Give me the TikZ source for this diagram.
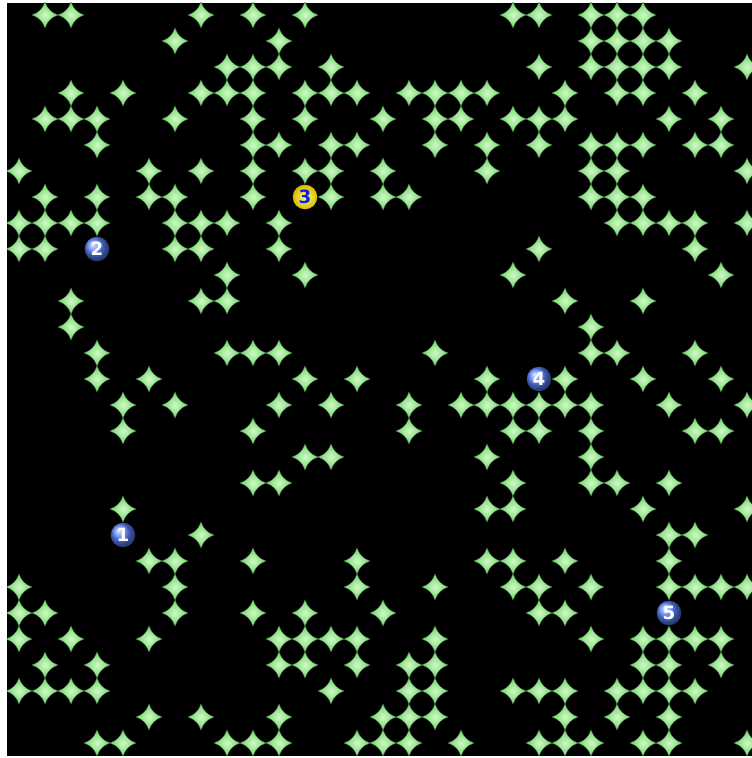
\documentclass[tikz,border=0pt]{standalone}
\usepackage{fontspec}
\setsansfont{DejaVu Sans}
\definecolor{gemlight}{RGB}{205,252,195}
\definecolor{gemdark}{RGB}{118,206,112}
\definecolor{gemedge}{RGB}{60,125,60}
\definecolor{siteblue}{RGB}{90,130,255}
\definecolor{yellowlight}{RGB}{255,255,120}
\definecolor{yellowdark}{RGB}{215,185,0}
\definecolor{digitblue}{RGB}{20,30,235}
\begin{document}
\begin{tikzpicture}[x=0.7cm, y=-0.7cm,
  gem/.style={draw=gemedge, line width=0.25pt, inner color=gemlight, outer color=gemdark},
  sparkle/.pic={\path[gem] (0,-0.5) .. controls (0.09,-0.24) and (0.24,-0.09) .. (0.5,0)
      .. controls (0.24,0.09) and (0.09,0.24) .. (0,0.5)
      .. controls (-0.09,0.24) and (-0.24,0.09) .. (-0.5,0)
      .. controls (-0.24,-0.09) and (-0.09,-0.24) .. (0,-0.5) -- cycle;},
  site/.style={circle, inner sep=0pt, minimum size=0.66cm, shading=ball, ball color=siteblue,
    text=white, font=\sffamily\bfseries\fontsize{14}{14}\selectfont},
  goldsite/.style={site, shading=radial, inner color=yellowlight, outer color=yellowdark, text=digitblue}
]
% frame
\useasboundingbox (-0.7308,-0.5769) rectangle (28.1923,28.5769);
\fill[white] (-0.7308,-0.5769) rectangle (28.1923,28.5769);
\fill[black] (-0.4615,-0.4615) rectangle (28.1923,28.5);
\begin{scope}
\clip (-0.4615,-0.4615) rectangle (28.1923,28.5);
% lattice, row / occupied columns
\foreach \r/\cols in {
  0/{1,2,7,9,11,19,20,22,23,24},
  1/{6,10,22,23,24,25},
  2/{8,9,10,12,20,22,23,24,25,28},
  3/{2,4,7,8,9,11,12,13,15,16,17,18,21,23,24,26},
  4/{1,2,3,6,9,11,14,16,17,19,20,21,25,27},
  5/{3,9,10,12,13,16,18,20,22,23,24,26,27},
  6/{0,5,7,9,11,12,14,18,22,23,28},
  7/{1,3,5,6,9,12,14,15,22,23,24},
  8/{0,1,2,3,6,7,8,10,23,24,25,26,28},
  9/{0,1,6,7,10,20,26},
  10/{8,11,19,27},
  11/{2,7,8,21,24},
  12/{2,22},
  13/{3,8,9,10,16,22,23,26},
  14/{3,5,11,13,18,21,24,27},
  15/{4,6,10,12,15,17,18,19,20,21,22,25,28},
  16/{4,9,15,19,20,22,26,27},
  17/{11,12,18,22},
  18/{9,10,19,22,23,25},
  19/{4,18,19,24,28},
  20/{7,25,26},
  21/{5,6,9,13,18,19,21,25},
  22/{0,6,13,16,19,20,22,25,26,27,28},
  23/{0,1,6,9,11,14,20,21},
  24/{0,2,5,10,11,12,13,16,22,24,25,26,27},
  25/{1,3,10,11,13,15,16,24,25,27},
  26/{0,1,2,3,12,15,16,19,20,21,23,24,25,26},
  27/{5,7,10,14,15,16,21,23,25},
  28/{3,4,8,9,10,13,14,15,17,20,21,22,24,25,28}} {
  \foreach \c in \cols {
    \pic at (\c,\r) {sparkle};
  }
}
\end{scope}
% numbered sites
\node[site] (site1) at (4,20) {1};
\node[site] (site2) at (3,9) {2};
\node[goldsite] (site3) at (11,7) {3};
\node[site] (site4) at (20,14) {4};
\node[site] (site5) at (25,23) {5};
\end{tikzpicture}
\end{document}
